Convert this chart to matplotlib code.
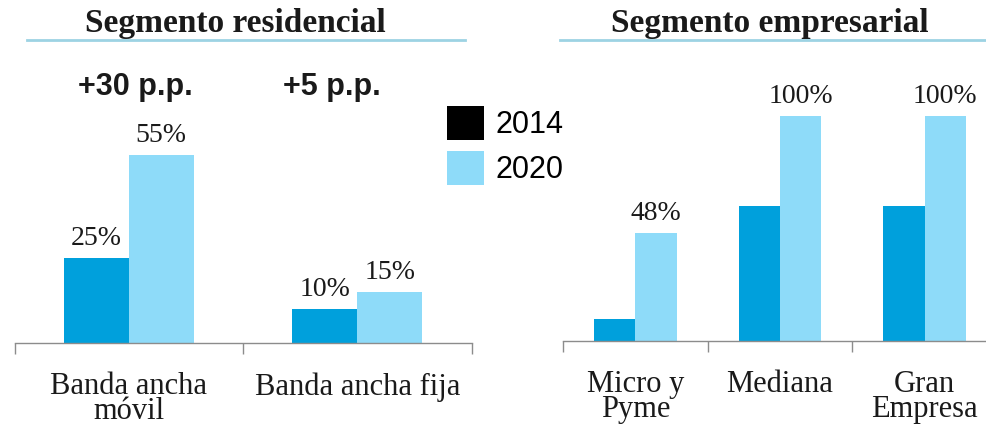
import matplotlib.pyplot as plt
from matplotlib.patches import Patch
from matplotlib.lines import Line2D

# residential segment
res_labels = ['Banda ancha\nmóvil', 'Banda ancha fija']
res_2014 = [25, 10]
res_2020 = [55, 15]

# business segment
emp_labels = ['Micro y\nPyme', 'Mediana', 'Gran\nEmpresa']
emp_2014 = [10, 60, 60]
emp_2020 = [48, 100, 100]

years = ['2014', '2020']

c2014 = '#00A0DC'
c2020 = '#8EDBF9'
txt = '#1a1a1a'
serif = 'Liberation Serif'
sans = 'Liberation Sans'

W, H = 986, 425
fig = plt.figure(figsize=(W / 100, H / 100), dpi=100)


def px_axes(x0, x1, y_base, y_top):
    return fig.add_axes([x0 / W, (H - y_base) / H, (x1 - x0) / W, (y_base - y_top) / H])


def draw_panel(ax, labels, v14, v20, ymax, label14=True):
    n = len(labels)
    xs = range(n)
    bw = 0.285
    b1 = ax.bar([x - bw / 2 for x in xs], v14, bw, color=c2014, linewidth=0)
    b2 = ax.bar([x + bw / 2 for x in xs], v20, bw, color=c2020, linewidth=0)
    groups = [b2] + ([b1] if label14 else [])
    for bars in groups:
        for r in bars:
            v = r.get_height()
            ax.annotate(f'{v:g}%', (r.get_x() + r.get_width() / 2, v),
                        xytext=(0, 5), textcoords='offset points',
                        ha='center', va='bottom', fontsize=20,
                        family=serif, color=txt)
    ax.set_xlim(-0.5, n - 0.5)
    ax.set_ylim(0, ymax)
    for s in ['top', 'left', 'right']:
        ax.spines[s].set_visible(False)
    ax.spines['bottom'].set_color('#8c8c8c')
    ax.spines['bottom'].set_linewidth(1)
    ax.set_yticks([])
    ax.set_xticks([x - 0.5 for x in range(n + 1)])
    ax.set_xticklabels([])
    ax.tick_params(axis='x', which='major', length=8, width=1,
                   color='#8c8c8c', direction='out')
    ax.set_xticks(list(xs), minor=True)
    ax.set_xticklabels(labels, minor=True, fontsize=22, family=serif,
                       color=txt, linespacing=0.8, va='top')
    ax.tick_params(axis='x', which='minor', length=0, pad=21)
    ax.patch.set_visible(False)


ax1 = px_axes(14.5, 471.5, 343, 60)
draw_panel(ax1, res_labels, res_2014, res_2020, 283 / 3.42)

ax2 = px_axes(563, 997, 341, 60)
draw_panel(ax2, emp_labels, emp_2014, emp_2020, 281 / 2.25, label14=False)

# change in percentage points for the residential segment
for x, a, b in zip([0.03, 0.89], res_2014, res_2020):
    ax1.text(x, 1 - (95 - 60) / 283, f'+{b - a} p.p.',
             transform=ax1.get_xaxis_transform(),
             ha='center', va='baseline', fontsize=22, fontweight='bold',
             family=sans, color=txt)

# section titles with underline
fig.text(235 / W, 1 - 32 / H, 'Segmento residencial', ha='center', va='baseline',
         fontsize=24, fontweight='bold', family=serif, color=txt)
fig.text(770 / W, 1 - 32 / H, 'Segmento empresarial', ha='center', va='baseline',
         fontsize=24, fontweight='bold', family=serif, color=txt)
fig.add_artist(Line2D([27 / W, 465 / W], [1 - 40 / H] * 2, color='#9DD3E3', lw=2))
fig.add_artist(Line2D([560 / W, 1.0], [1 - 40 / H] * 2, color='#9DD3E3', lw=2))

handles = [Patch(facecolor='black', edgecolor='none'),
           Patch(facecolor=c2020, edgecolor='none')]
fig.legend(handles, years, loc='upper left', bbox_to_anchor=(447 / W, 1 - 106 / H),
           frameon=False, prop={'family': sans, 'size': 22},
           handlelength=1.2, handleheight=1.35, handletextpad=0.4,
           labelspacing=0.35, borderpad=0, borderaxespad=0)

fig.savefig('out.png', dpi=100)
